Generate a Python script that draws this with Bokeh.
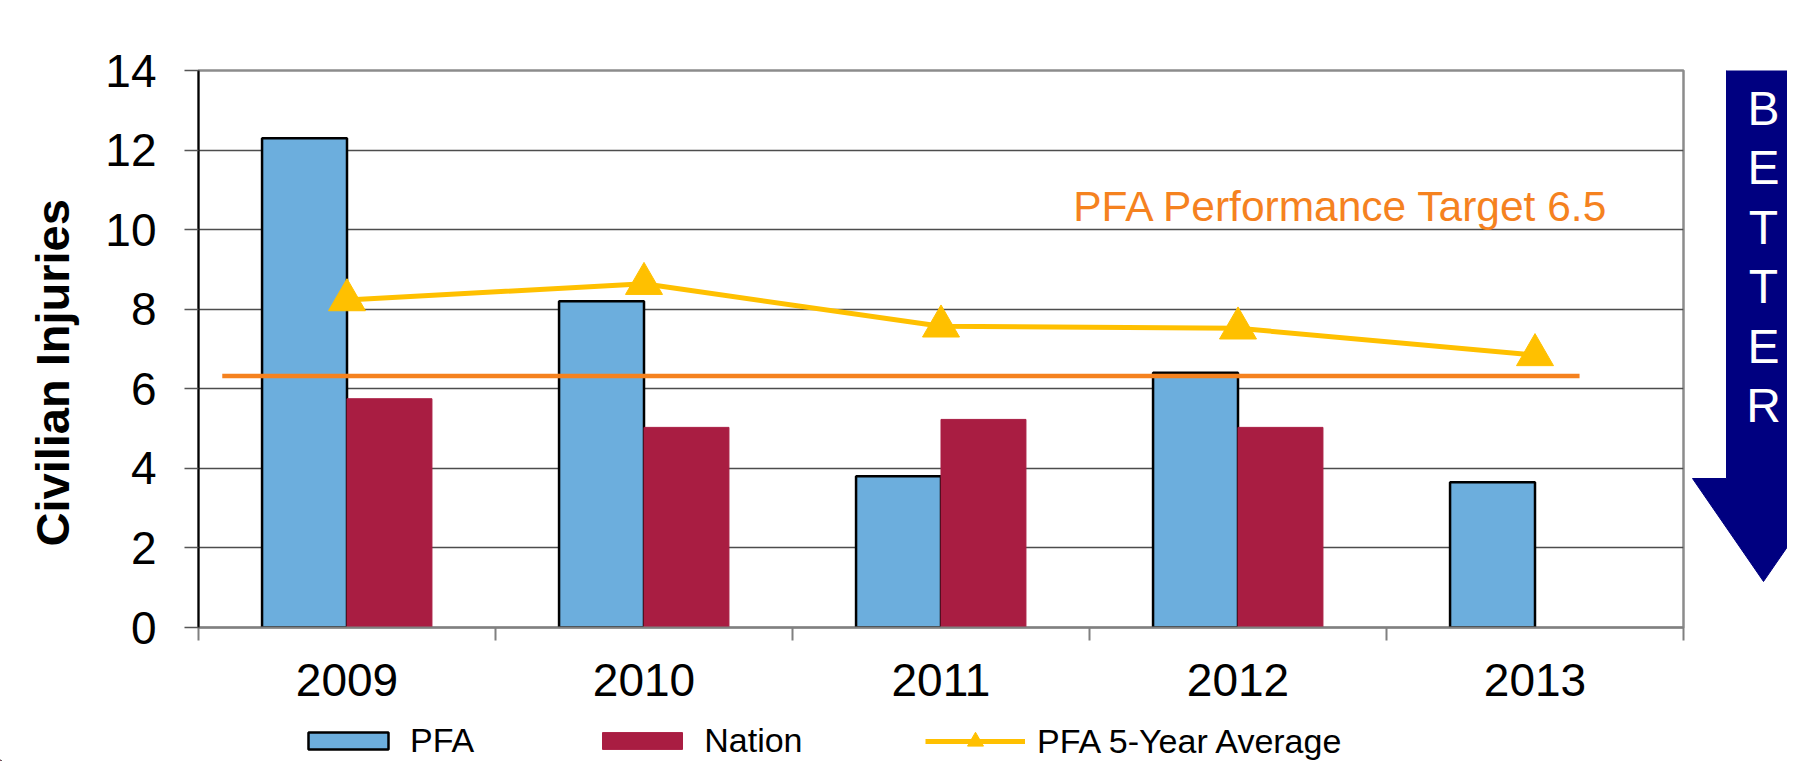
from bokeh.plotting import figure
from bokeh.layouts import row, column
from bokeh.models import (Range1d, FixedTicker, Legend, LegendItem, Label, Title)
from bokeh.core.properties import value
from bokeh.embed import file_html
from bokeh.resources import INLINE

# ---------------- data ----------------
years = ["2009", "2010", "2011", "2012", "2013"]
pfa = [12.3, 8.2, 3.8, 6.4, 3.65]
nation = [5.75, 5.03, 5.23, 5.03]          # no 2013 value
pfa_5yr_avg = [8.23, 8.64, 7.57, 7.52, 6.85]
target_value = 6.32
target_text = "PFA Performance Target 6.5"
y_ticks = [0, 2, 4, 6, 8, 10, 12, 14]
y_label = "Civilian Injuries"
arrow_letters = list("BETTER")
legend_labels = ["PFA", "Nation", "PFA 5-Year Average"]

# ---------------- styling / layout ----------------
FONT = "Liberation Sans"
C_PFA = "#6CAEDD"
C_NAT = "#A91D42"
C_AVG = "#FFC000"
C_TGT = "#F5821F"
C_ARROW = "#000080"
BAR_W = 0.286
target_span = (0.08, 4.65)

W_TOTAL = 1787
H_STRIP = 40
H_MAIN = 721
W_MAIN = 1688
FRAME_LEFT, FRAME_RIGHT = 195, 1683
FRAME_TOP, FRAME_BOTTOM = 70, 627

centers = [i + 0.5 for i in range(len(years))]
pfa_x = [c - BAR_W / 2 for c in centers]
nat_x = [c + BAR_W / 2 for c in centers[:len(nation)]]

p = figure(width=W_MAIN, height=H_MAIN, x_range=Range1d(0, 5), y_range=Range1d(0, 14),
           output_backend="svg", toolbar_location=None,
           min_border_left=FRAME_LEFT, min_border_right=W_MAIN - FRAME_RIGHT,
           min_border_top=FRAME_TOP, min_border_bottom=H_MAIN - FRAME_BOTTOM)
p.background_fill_color = "white"
p.border_fill_color = "white"
p.outline_line_color = "#8c8c8c"
p.outline_line_width = 2.5

# axes
yax = p.yaxis[0]
yax.ticker = FixedTicker(ticks=y_ticks)
yax.major_label_text_font = FONT
yax.major_label_text_font_size = "46px"
yax.major_label_text_color = "black"
yax.major_tick_out = 14
yax.major_tick_in = 0
yax.minor_tick_out = 0
yax.minor_tick_in = 0
yax.major_tick_line_color = "#555555"
yax.major_tick_line_width = 1.5
yax.axis_line_color = "black"
yax.axis_line_width = 2
yax.major_label_standoff = 28

xax = p.xaxis[0]
xax.ticker = FixedTicker(ticks=centers, minor_ticks=list(range(len(years) + 1)))
xax.major_label_overrides = {c: y for c, y in zip(centers, years)}
xax.major_label_text_font = FONT
xax.major_label_text_font_size = "46px"
xax.major_label_text_color = "black"
xax.major_tick_out = 0
xax.major_tick_in = 0
xax.minor_tick_out = 13
xax.minor_tick_in = 0
xax.minor_tick_line_color = "#808080"
xax.minor_tick_line_width = 2
xax.axis_line_color = "#808080"
xax.axis_line_width = 2
xax.major_label_standoff = 23

p.xgrid.visible = False
p.ygrid.ticker = FixedTicker(ticks=y_ticks)
p.ygrid.grid_line_color = "#4d4d4d"
p.ygrid.grid_line_width = 1.5

# bars
r_pfa = p.vbar(x=pfa_x, top=pfa, width=BAR_W, bottom=0, fill_color=C_PFA,
               line_color="black", line_width=2.5)
r_nat = p.vbar(x=nat_x, top=nation, width=BAR_W, bottom=0, fill_color=C_NAT,
               line_color=C_NAT, line_width=1)

# target line
p.line(x=list(target_span), y=[target_value, target_value],
       line_color=C_TGT, line_width=4.5)

# 5-year average
p.line(x=centers, y=pfa_5yr_avg, line_color=C_AVG, line_width=5)
p.scatter(x=centers, y=pfa_5yr_avg, marker="triangle", size=37,
          fill_color=C_AVG, line_color=C_AVG)

p.add_layout(Label(x=2.945, y=10.57, text=target_text, text_font=FONT,
                   text_font_size="42.5px", text_color=C_TGT,
                   text_baseline="alphabetic", text_align="left"))

# y axis label as a side title (placed lower than centre, like the original)
p.add_layout(Title(text=y_label, text_font=FONT, text_font_size="47px",
                   text_font_style="bold", text_color="black", align="left",
                   offset=81, standoff=47), "left")

# ---------------- "BETTER" arrow panel on the right ----------------
# its frame is aligned with the main frame, so the y range is given in page pixels
q = figure(width=W_TOTAL - W_MAIN, height=H_MAIN, x_range=Range1d(W_MAIN, W_TOTAL),
           y_range=Range1d(FRAME_BOTTOM, FRAME_TOP), output_backend="svg",
           toolbar_location=None, min_border_left=0, min_border_right=0,
           min_border_top=FRAME_TOP, min_border_bottom=H_MAIN - FRAME_BOTTOM,
           x_axis_location=None, y_axis_location=None)
q.outline_line_color = None
q.grid.visible = False
q.background_fill_color = "white"
q.border_fill_color = "white"

ax_c, body_hw, head_hw = 1763, 37, 71
y_top, y_head, y_tip = 66, 478, 581
q.patch(x=[ax_c - body_hw, ax_c + body_hw, ax_c + body_hw, ax_c + head_hw, ax_c,
           ax_c - head_hw, ax_c - body_hw],
        y=[y_top, y_top, y_head, y_head, y_tip, y_head, y_head],
        fill_color=C_ARROW, line_color=C_ARROW)
q.text(x=[ax_c] * len(arrow_letters),
       y=[107.5 + i * 59.5 for i in range(len(arrow_letters))],
       text=arrow_letters, text_font=value(FONT), text_font_size="48px",
       text_color="white", text_align="center", text_baseline="middle")

# ---------------- legend strip at the bottom ----------------
s = figure(width=W_TOTAL, height=H_STRIP, x_range=Range1d(0, W_TOTAL),
           y_range=Range1d(0, H_STRIP), output_backend="svg",
           toolbar_location=None, min_border=0,
           x_axis_location=None, y_axis_location=None)
s.outline_line_color = None
s.grid.visible = False
s.background_fill_color = "white"
s.border_fill_color = "white"
# legend swatch renderers (styled like the series above, kept outside the view)
OFF = -1000
k_pfa = s.vbar(x=[OFF], top=[1], width=1, fill_color=C_PFA, line_color="black",
               line_width=2.5)
k_nat = s.vbar(x=[OFF], top=[1], width=1, fill_color=C_NAT, line_color=C_NAT,
               line_width=1)
k_avg_l = s.line(x=[OFF, OFF - 1], y=[1, 1], line_color=C_AVG, line_width=5)
k_avg_m = s.scatter(x=[OFF], y=[1], marker="triangle", size=30, fill_color=C_AVG,
                    line_color=C_AVG)
common = dict(orientation="horizontal", label_text_font=FONT,
              label_text_font_size="34px", label_text_color="black",
              glyph_width=100, label_standoff=12, padding=0, margin=0,
              border_line_color=None, background_fill_alpha=0)
legend_bars = Legend(items=[LegendItem(label=legend_labels[0], renderers=[k_pfa]),
                            LegendItem(label=legend_labels[1], renderers=[k_nat])],
                     location=(298, 1), glyph_height=21, spacing=118, **common)
legend_avg = Legend(items=[LegendItem(label=legend_labels[2],
                                      renderers=[k_avg_l, k_avg_m])],
                    location=(925, 0), glyph_height=40, **common)
s.add_layout(legend_bars)
s.add_layout(legend_avg)

open("out.html", "w").write(file_html(column(row(p, q), s), INLINE))
